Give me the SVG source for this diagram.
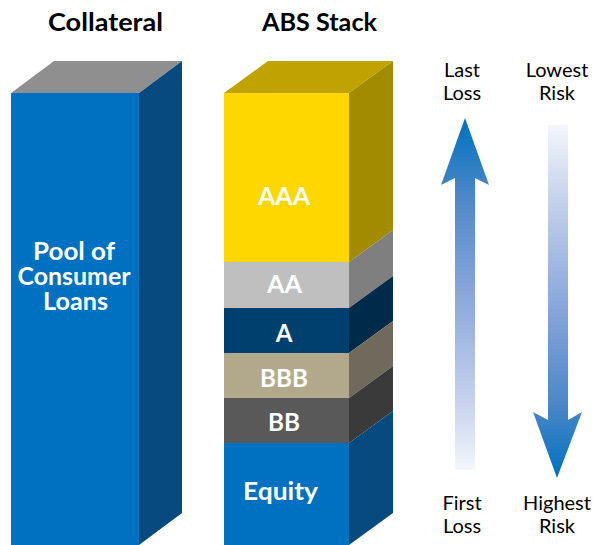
<svg xmlns="http://www.w3.org/2000/svg" width="597" height="545" viewBox="0 0 597 545">
  <defs>
    <linearGradient id="gradUp" gradientUnits="userSpaceOnUse" x1="0" y1="118" x2="0" y2="470">
      <stop offset="0" stop-color="#0070C0"/>
      <stop offset="0.23" stop-color="#4F88C8"/>
      <stop offset="0.52" stop-color="#8DAADB"/>
      <stop offset="0.8" stop-color="#C5D2EC"/>
      <stop offset="1" stop-color="#F4F6FB"/>
    </linearGradient>
    <linearGradient id="gradDown" gradientUnits="userSpaceOnUse" x1="0" y1="125" x2="0" y2="478">
      <stop offset="0" stop-color="#F4F6FB"/>
      <stop offset="0.21" stop-color="#C5D2EC"/>
      <stop offset="0.49" stop-color="#8DAADB"/>
      <stop offset="0.78" stop-color="#4F88C8"/>
      <stop offset="1" stop-color="#0070C0"/>
    </linearGradient>
  </defs>
  <style>
    .title { font-family: Lato, "Open Sans", "Liberation Sans", sans-serif; font-weight: bold; font-size: 24px; fill: #000; text-anchor: middle; }
    .box { font-family: Lato, "Open Sans", "Liberation Sans", sans-serif; font-weight: bold; font-size: 24px; fill: #FFF; text-anchor: middle; }
    .side { font-family: Lato, "Open Sans", "Liberation Sans", sans-serif; font-size: 20px; fill: #000; text-anchor: middle; }
  </style>

  <rect width="597" height="545" fill="#FFFFFF"/>

  <!-- column headings -->
  <text class="title" x="105.5" y="31" textLength="115" lengthAdjust="spacingAndGlyphs">Collateral</text>
  <text class="title" x="319.5" y="31" textLength="115" lengthAdjust="spacingAndGlyphs">ABS Stack</text>

  <!-- collateral block -->
  <g id="collateral">
    <polygon points="11,93 54,61 182,61 139,93" fill="#8F8F8F"/>
    <polygon points="139,93 182,61 182,513 139,545" fill="#064A80"/>
    <rect x="11" y="93" width="128" height="452" fill="#0070C0"/>
    <text class="box"><tspan x="74" y="260" textLength="82" lengthAdjust="spacingAndGlyphs">Pool of</tspan><tspan x="74" y="285" textLength="113" lengthAdjust="spacingAndGlyphs">Consumer</tspan><tspan x="75.5" y="310" textLength="65" lengthAdjust="spacingAndGlyphs">Loans</tspan></text>
  </g>

  <!-- ABS tranche stack -->
  <g id="abs-stack">
    <polygon points="224,93 268,61 393,61 349,93" fill="#C0A300"/>

    <g id="tranche-aaa">
      <rect x="224" y="93" width="125" height="169" fill="#FFD700"/>
      <polygon points="349,93 393,61 393,230 349,262" fill="#A38B00"/>
      <text class="box" x="284" y="205" textLength="52" lengthAdjust="spacingAndGlyphs">AAA</text>
    </g>
    <g id="tranche-aa">
      <rect x="224" y="262" width="125" height="46" fill="#BFBFBF"/>
      <polygon points="349,262 393,230 393,276 349,308" fill="#7F7F7F"/>
      <text class="box" x="284.5" y="293" textLength="35" lengthAdjust="spacingAndGlyphs">AA</text>
    </g>
    <g id="tranche-a">
      <rect x="224" y="308" width="125" height="45" fill="#00406F"/>
      <polygon points="349,308 393,276 393,321 349,353" fill="#002A4A"/>
      <text class="box" x="284" y="342">A</text>
    </g>
    <g id="tranche-bbb">
      <rect x="224" y="353" width="125" height="45" fill="#B2A98C"/>
      <polygon points="349,353 393,321 393,366 349,398" fill="#6F6A5B"/>
      <text class="box" x="284" y="387" textLength="48" lengthAdjust="spacingAndGlyphs">BBB</text>
    </g>
    <g id="tranche-bb">
      <rect x="224" y="398" width="125" height="45" fill="#595959"/>
      <polygon points="349,398 393,366 393,411 349,443" fill="#3A3A3A"/>
      <text class="box" x="284" y="431" textLength="32" lengthAdjust="spacingAndGlyphs">BB</text>
    </g>
    <g id="tranche-equity">
      <rect x="224" y="443" width="125" height="102" fill="#0070C0"/>
      <polygon points="349,443 393,411 393,513 349,545" fill="#064A80"/>
      <text class="box" x="280.5" y="500" textLength="75" lengthAdjust="spacingAndGlyphs">Equity</text>
    </g>
  </g>

  <!-- loss / risk scale labels -->
  <g id="label-last-loss">
    <text class="side"><tspan x="462" y="77">Last</tspan><tspan x="462" y="100">Loss</tspan></text>
  </g>
  <g id="label-lowest-risk">
    <text class="side"><tspan x="557" y="77">Lowest</tspan><tspan x="557" y="100">Risk</tspan></text>
  </g>
  <g id="label-first-loss">
    <text class="side"><tspan x="462" y="510">First</tspan><tspan x="462" y="533">Loss</tspan></text>
  </g>
  <g id="label-highest-risk">
    <text class="side"><tspan x="557" y="510">Highest</tspan><tspan x="557" y="533">Risk</tspan></text>
  </g>

  <!-- scale arrows -->
  <g id="arrows">
    <polygon points="465,118 489,185 475,178 475,470 455,470 455,178 441,185" fill="url(#gradUp)"/>
    <polygon points="548,125 568,125 568,420 582,412 557,478 533,412 548,420" fill="url(#gradDown)"/>
  </g>
</svg>
